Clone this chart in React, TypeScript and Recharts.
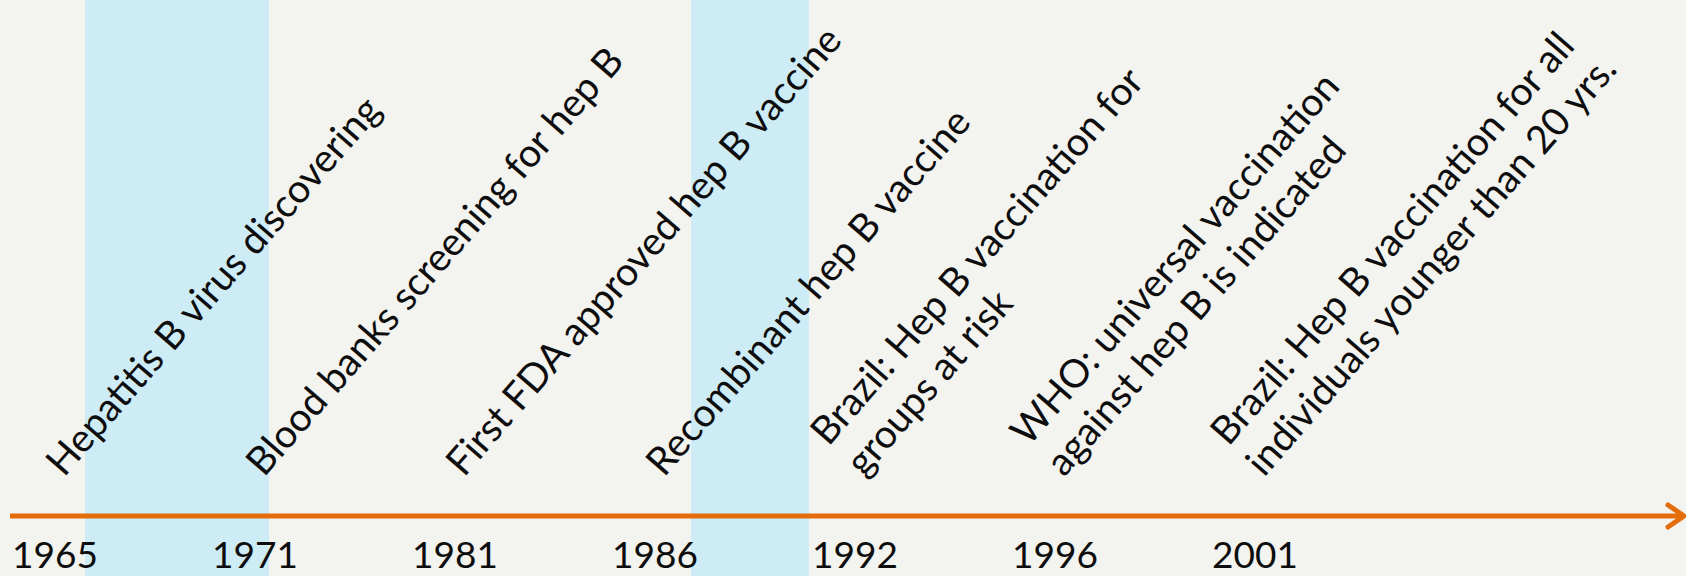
import { ComposedChart, XAxis, YAxis, Scatter, ReferenceArea, ReferenceLine } from "recharts";

// timeline of hepatitis B milestones
const years = ["1965", "1971", "1981", "1986", "1992", "1996", "2001"];
const events = [
  ["Hepatitis B virus discovering"],
  ["Blood banks screening for hep B"],
  ["First FDA approved hep B vaccine"],
  ["Recombinant hep B vaccine"],
  ["Brazil: Hep B vaccination for", "groups at risk"],
  ["WHO: universal vaccination", "against hep B is indicated"],
  ["Brazil: Hep B vaccination for all", "individuals younger than 20 yrs."],
];
// highlighted periods, in timeline slots
const bandStart = [0.15, 3.18];
const bandEnd = [1.07, 3.77];

const data = years.map((year, i) => ({ slot: i, year, lines: events[i], level: 0 }));

const BG = "#f3f3ef";
const BAND = "#cdecf6";
const ORANGE = "#e46c0a";
const FONT = "Lato, 'Open Sans', sans-serif";
const LINE_H = 47;

function YearTick(props: any) {
  const { x, y, payload } = props;
  return (
    <text x={x} y={y + 52} textAnchor="middle" fontSize={37} fontFamily={FONT} fill="#0d0d0d">
      {years[payload.value]}
    </text>
  );
}

function EventLabel(props: any) {
  const { cx, cy, payload } = props;
  if (cx == null || cy == null) return <g />;
  const lines: string[] = payload.lines;
  const n = lines.length;
  return (
    <text
      transform={`translate(${cx + 9}, ${cy - 38}) rotate(-49)`}
      fontSize={39}
      fontFamily={FONT}
      fill="#0d0d0d"
    >
      {lines.map((t, j) => (
        <tspan key={j} x={0} y={(j - (n - 1)) * LINE_H}>{t}</tspan>
      ))}
    </text>
  );
}

function ArrowLine(props: any) {
  const { x1, y1, x2 } = props;
  const tip = x2 - 2;
  return (
    <g>
      <line x1={x1} y1={y1} x2={tip - 2} y2={y1} stroke={ORANGE} strokeWidth={5} />
      <polyline
        points={`${tip - 16},${y1 - 11} ${tip},${y1} ${tip - 16},${y1 + 11}`}
        fill="none"
        stroke={ORANGE}
        strokeWidth={5}
        strokeLinecap="round"
        strokeLinejoin="round"
      />
    </g>
  );
}

export default function App() {
  return (
    <div style={{ position: "fixed", left: 0, top: 0, width: 1686, height: 576, background: BG }}>
      <ComposedChart width={1686} height={576} data={data} margin={{ top: 0, right: 0, left: 10, bottom: 0 }}>
        {bandStart.map((s, i) => (
          <ReferenceArea
            key={i}
            x1={s}
            x2={bandEnd[i]}
            y1={-1.3}
            y2={10}
            ifOverflow="visible"
            fill={BAND}
            fillOpacity={1}
            stroke="none"
          />
        ))}
        <XAxis
          type="number"
          dataKey="slot"
          domain={[-0.225, 8.155]}
          allowDataOverflow
          ticks={[0, 1, 2, 3, 4, 5, 6]}
          interval={0}
          height={60}
          axisLine={false}
          tickLine={false}
          tickSize={0}
          tickMargin={0}
          tick={<YearTick />}
        />
        <YAxis type="number" domain={[0, 10]} hide />
        <ReferenceLine y={0} ifOverflow="visible" shape={<ArrowLine />} />
        <Scatter dataKey="level" isAnimationActive={false} shape={<EventLabel />} />
      </ComposedChart>
    </div>
  );
}
